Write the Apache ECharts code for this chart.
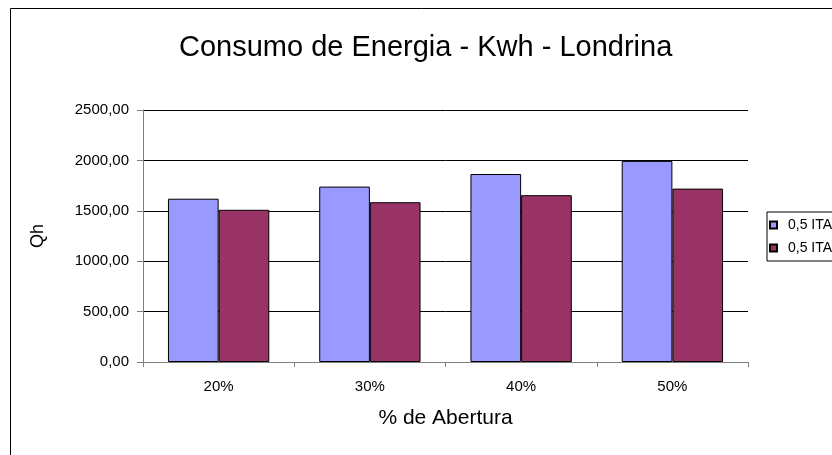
<!DOCTYPE html>
<html>
<head>
<meta charset="utf-8">
<script src="https://cdn.jsdelivr.net/npm/echarts@6/dist/echarts.min.js"></script>
<style>
  html, body { margin: 0; padding: 0; background: #fff; }
  #chart { width: 832px; height: 455px; }
</style>
</head>
<body>
<div id="chart"></div>
<script>
// Energy consumption by opening percentage
const categories = ['20%', '30%', '40%', '50%'];
const seriesKeys = ['ita-a', 'ita-b'];
const legendLabels = ['0,5 ITA', '0,5 ITA'];
const seriesA = [1620, 1740, 1865, 1995];
const seriesB = [1510, 1585, 1655, 1720];
const yTicks = { min: 0, max: 2500, step: 500 };

const font = 'Liberation Sans, Arial, sans-serif';
const chart = echarts.init(document.getElementById('chart'));

chart.setOption({
  animation: false,
  backgroundColor: '#fff',
  textStyle: { fontFamily: font },
  graphic: [{
    type: 'rect',
    shape: { x: 10.5, y: 8.5, width: 900, height: 600 },
    style: { fill: 'none', stroke: '#000', lineWidth: 1 },
    silent: true, z: -1
  }],
  title: {
    text: 'Consumo de Energia - Kwh - Londrina',
    left: 174, top: 28,
    textStyle: { fontFamily: font, fontSize: 29, fontWeight: 'normal', color: '#000' }
  },
  legend: {
    left: 767, top: 212,
    orient: 'vertical',
    borderColor: '#000', borderWidth: 1,
    padding: [6, 10, 6, 2],
    itemWidth: 7, itemHeight: 7, itemGap: 9,
    icon: 'rect',
    formatter: name => legendLabels[seriesKeys.indexOf(name)],
    textStyle: { fontFamily: font, fontSize: 14, color: '#000', padding: [0, 0, 0, 6] }
  },
  grid: { left: 143, right: 84, top: 110, bottom: 93 },
  xAxis: {
    type: 'category',
    data: categories,
    name: '% de Abertura',
    nameLocation: 'middle',
    nameGap: 46,
    nameTextStyle: { fontFamily: font, fontSize: 21, color: '#000' },
    axisLine: { lineStyle: { color: '#808080', width: 1 } },
    axisTick: { show: true, length: 5, lineStyle: { color: '#808080' } },
    axisLabel: { margin: 17, fontFamily: font, fontSize: 15, color: '#000' }
  },
  yAxis: {
    type: 'value',
    min: yTicks.min, max: yTicks.max, interval: yTicks.step,
    name: 'Qh',
    nameLocation: 'middle',
    nameGap: 96,
    nameRotate: 90,
    nameTextStyle: { fontFamily: font, fontSize: 18, color: '#000' },
    axisLine: { show: true, lineStyle: { color: '#808080', width: 1 } },
    axisTick: { show: true, length: 6, lineStyle: { color: '#808080' } },
    axisLabel: {
      margin: 14, fontFamily: font, fontSize: 15, color: '#000',
      formatter: v => v.toFixed(2).replace('.', ',')
    },
    splitLine: { lineStyle: { color: '#000', width: 1 } }
  },
  series: [
    {
      name: seriesKeys[0], type: 'bar', data: seriesA,
      barGap: '0%', barCategoryGap: '33%',
      itemStyle: { color: '#9999FF', borderColor: '#000', borderWidth: 1 }
    },
    {
      name: seriesKeys[1], type: 'bar', data: seriesB,
      barGap: '0%', barCategoryGap: '33%',
      itemStyle: { color: '#993366', borderColor: '#000', borderWidth: 1 }
    }
  ]
});
</script>
</body>
</html>
